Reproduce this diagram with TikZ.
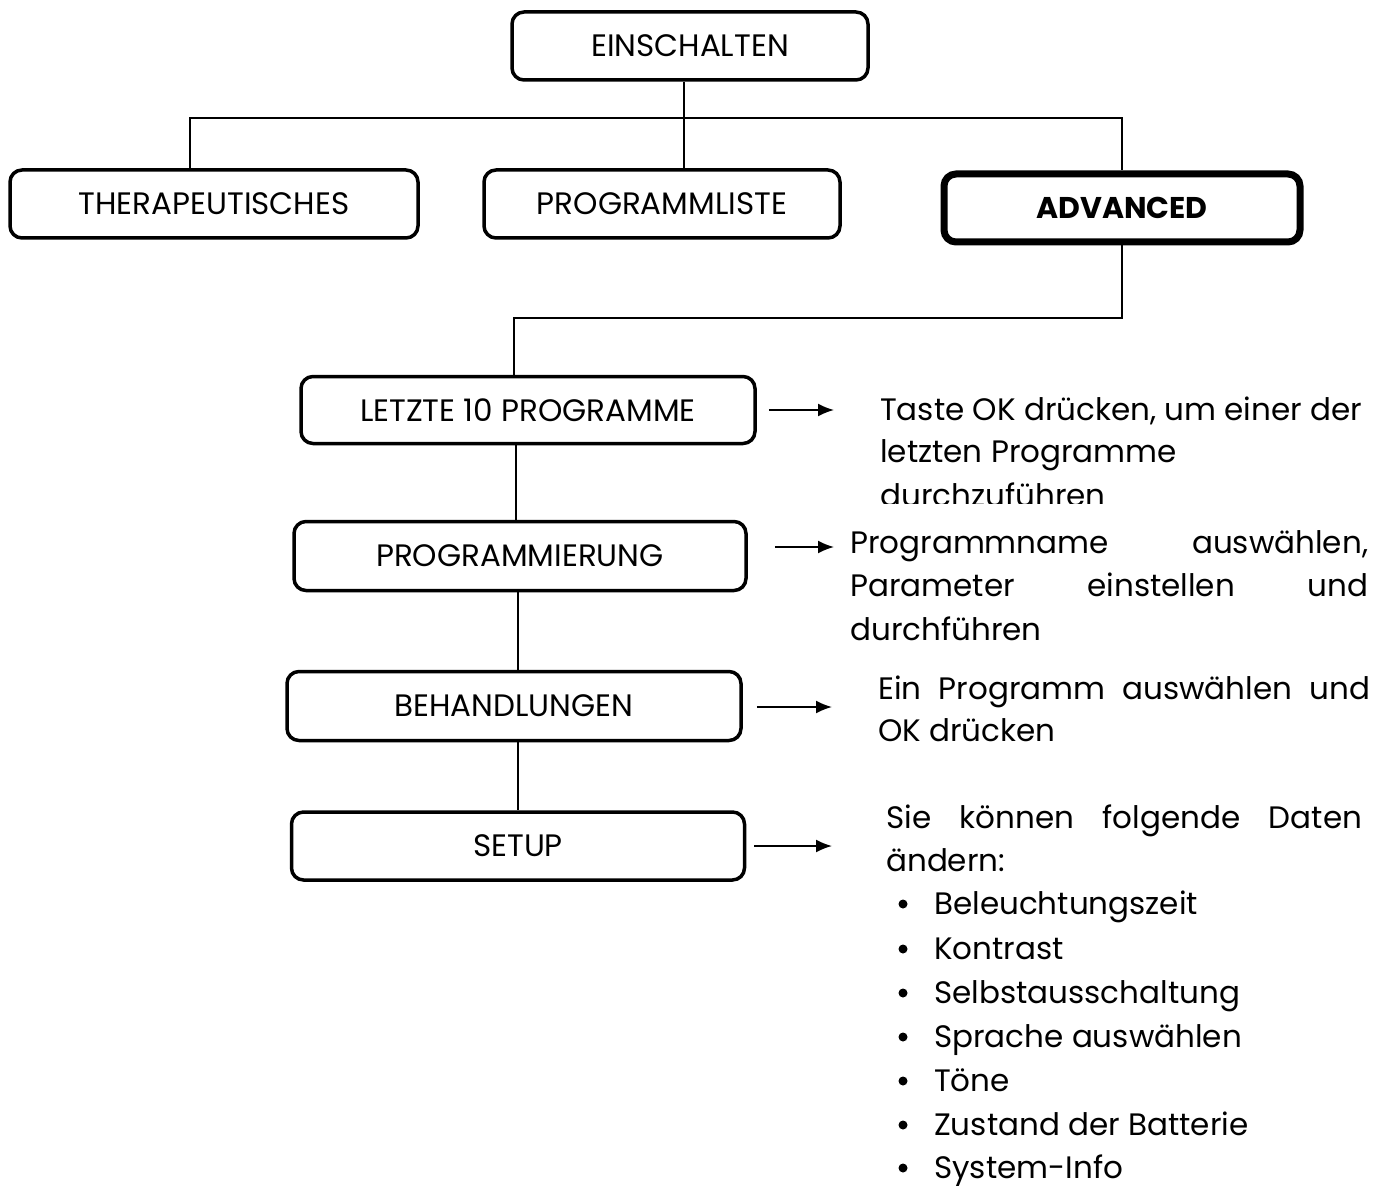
\documentclass[tikz,border=0pt]{standalone}
\usepackage{fontspec}
\setmainfont{Poppins}
\usetikzlibrary{arrows.meta}
\begin{document}
\begin{tikzpicture}[x=1pt,y=-1pt,
  box/.style={draw, line width=3.5pt, rounded corners=12pt, inner sep=0pt,
    font=\fontsize{31}{36}\selectfont},
  conn/.style={line width=2pt},
  arr/.style={line width=1.8pt, -{Latex[length=16pt,width=13pt]}},
  txt/.style={anchor=base west, inner sep=0pt, font=\fontsize{31}{36}\selectfont},
  bul/.style={circle, fill, inner sep=0pt, minimum size=9pt}]
\useasboundingbox (0,0) rectangle (1391,1190);
% top level
\node[box, minimum width=356, minimum height=68] (e) at (690,46) {EINSCHALTEN};
\node[box, minimum width=408, minimum height=68] (th) at (214,204) {THERAPEUTISCHES};
\node[box, minimum width=356, minimum height=68] (pl) at (662,204) {PROGRAMMLISTE};
\node[box, line width=7pt, minimum width=356, minimum height=68, font=\fontsize{30}{36}\selectfont\bfseries] (adv) at (1122,208) {ADVANCED};
% second level
\node[box, minimum width=454, minimum height=67] (l) at (528,410) {LETZTE 10 PROGRAMME};
\node[box, minimum width=452, minimum height=69] (p) at (520,556) {PROGRAMMIERUNG};
\node[box, minimum width=454, minimum height=69] (b) at (514,706) {BEHANDLUNGEN};
\node[box, minimum width=453, minimum height=68] (s) at (518,846) {SETUP};
% tree connectors
\coordinate (top) at (684,118);
\coordinate (hl) at (190,118);
\coordinate (hr) at (1122,118);
\draw[conn] (top |- e.south) -- (top |- pl.north);
\draw[conn] (hl |- th.north) -- (hl) -- (hr) -- (hr |- adv.north);
\coordinate (br) at (1122,318);
\coordinate (bl) at (514,318);
\draw[conn] (br |- adv.south) -- (br) -- (bl) -- (bl |- l.north);
\coordinate (sp1) at (516,0);
\coordinate (sp2) at (518,0);
\draw[conn] (sp1 |- l.south) -- (sp1 |- p.north);
\draw[conn] (sp2 |- p.south) -- (sp2 |- b.north);
\draw[conn] (sp2 |- b.south) -- (sp2 |- s.north);
% arrows
\coordinate (a1) at (834,410);
\coordinate (a2) at (834,547);
\coordinate (a3) at (832,707);
\coordinate (a4) at (832,846);
\draw[arr] ([xshift=12pt]l.east) -- (a1);
\draw[arr] ([xshift=18pt]l.east |- a2) -- (a2);
\draw[arr] ([xshift=14pt]b.east |- a3) -- (a3);
\draw[arr] ([xshift=8pt]s.east |- a4) -- (a4);
% descriptions
\begin{scope}
\clip (860,380) rectangle (1391,503);
\node[txt] (t1) at (880,420) {Taste OK drücken, um einer der};
\node[txt] (t2) at (880,462) {letzten Programme};
\node[txt] (t3) at (880,506) {durchzuführen};
\end{scope}
\node[txt] (u1) at (850,553) {\hbox to 518pt{Programmname\hfill auswählen,}};
\node[txt] (u2) at (850,596) {\hbox to 518pt{Parameter\hfill einstellen\hfill und}};
\node[txt] (u3) at (850,640) {durchführen};
\node[txt] (v1) at (878,699) {\hbox to 492pt{Ein\hfill Programm\hfill auswählen\hfill und}};
\node[txt] (v2) at (878,741) {OK drücken};
\node[txt] (w1) at (886,828) {\hbox to 476pt{Sie\hfill können\hfill folgende\hfill Daten}};
\node[txt] (w2) at (886,871) {ändern:};
\foreach \y/\t [count=\i] in {914/Beleuchtungszeit, 959/Kontrast, 1003/Selbstausschaltung, 1047/Sprache auswählen, 1091/Töne, 1135/Zustand der Batterie, 1178/System-Info}{
  \node[bul] (bul\i) at (903,\y-10) {};
  \node[txt] (item\i) at (934,\y) {\t};
}
\end{tikzpicture}
\end{document}
